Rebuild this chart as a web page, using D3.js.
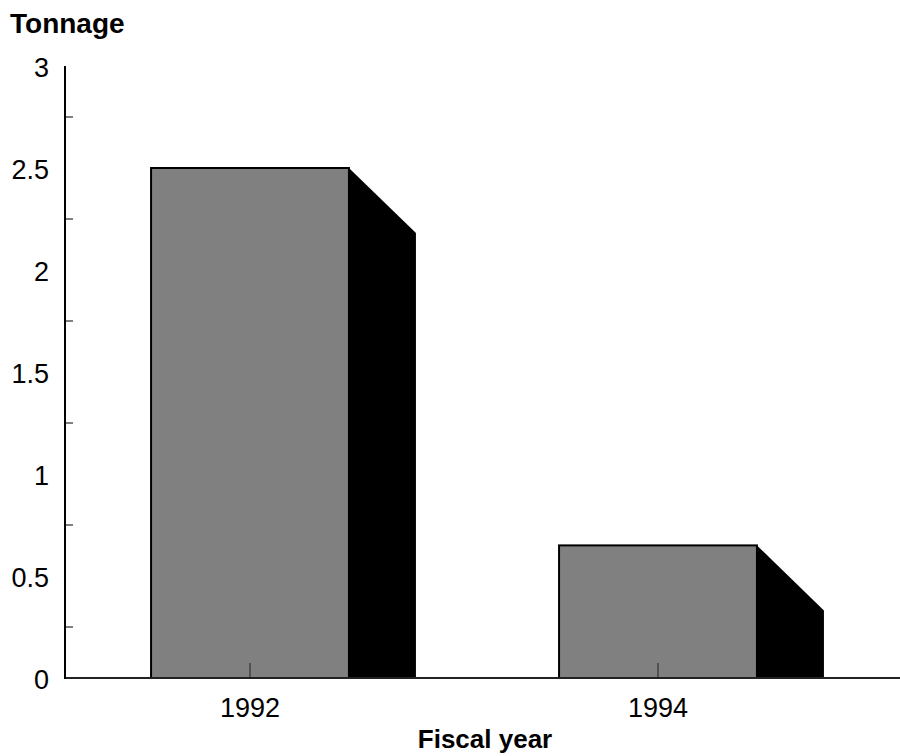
<!DOCTYPE html>
<html>
<head>
<meta charset="utf-8">
<script src="https://cdn.jsdelivr.net/npm/d3@7"></script>
<style>
  html, body { margin: 0; padding: 0; background: #fff; }
  svg { display: block; }
  text { font-family: "Liberation Sans", Arial, sans-serif; fill: #000; }
</style>
</head>
<body>
<svg id="chart" width="900" height="756"></svg>
<script>
// Tonnage by fiscal year
const years = ["1992", "1994"];
const tonnage = [2.5, 0.65];
const yTicks = [0, 0.5, 1, 1.5, 2, 2.5, 3];
const yMinorTicks = [0.25, 0.75, 1.25, 1.75, 2.25, 2.75];

const svg = d3.select("#chart");

const axisX = 65;      // y axis position
const x = d3.scaleBand().domain(years).range([46, 862]).padding(0);
const y = d3.scaleLinear().domain([0, 3]).range([678, 66]);

const barW = x.bandwidth() * 0.485;
const depthX = 67, depthY = 65;

// bars: front face plus dark side face
const g = svg.append("g");
years.forEach((yr, i) => {
  const cx = x(yr) + x.bandwidth() / 2;
  const left = cx - barW / 2, right = cx + barW / 2;
  const top = y(tonnage[i]), base = y(0);
  g.append("path")
    .attr("d", `M${right},${top}L${right + depthX},${top + depthY}L${right + depthX},${base}L${right},${base}Z`)
    .attr("fill", "#000");
  g.append("rect")
    .attr("x", left).attr("y", top)
    .attr("width", barW).attr("height", base - top)
    .attr("fill", "#808080")
    .attr("stroke", "#000").attr("stroke-width", 2);
});

// x axis line and inward ticks
svg.append("line")
  .attr("x1", axisX).attr("x2", 900)
  .attr("y1", y(0)).attr("y2", y(0))
  .attr("stroke", "#222").attr("stroke-width", 2);
years.forEach(yr => {
  const cx = x(yr) + x.bandwidth() / 2;
  svg.append("line")
    .attr("x1", cx).attr("x2", cx)
    .attr("y1", y(0)).attr("y2", y(0) - 15)
    .attr("stroke", "#222").attr("stroke-width", 1);
  svg.append("text")
    .attr("x", cx).attr("y", 717)
    .attr("text-anchor", "middle")
    .attr("font-size", 27)
    .text(yr);
});

// y axis line, minor ticks and labels
svg.append("line")
  .attr("x1", axisX).attr("x2", axisX)
  .attr("y1", y(3)).attr("y2", y(0) + 1)
  .attr("stroke", "#000").attr("stroke-width", 2);
yMinorTicks.forEach(v => {
  svg.append("line")
    .attr("x1", axisX).attr("x2", axisX + 8)
    .attr("y1", y(v)).attr("y2", y(v))
    .attr("stroke", "#000").attr("stroke-width", 1);
});
yTicks.forEach(v => {
  svg.append("text")
    .attr("x", 49).attr("y", y(v) + 11)
    .attr("text-anchor", "end")
    .attr("font-size", 27)
    .text(v);
});

// axis titles
svg.append("text")
  .attr("x", 10).attr("y", 33)
  .attr("font-size", 28).attr("font-weight", "bold")
  .text("Tonnage");
svg.append("text")
  .attr("x", 485).attr("y", 748)
  .attr("text-anchor", "middle")
  .attr("font-size", 26).attr("font-weight", "bold")
  .text("Fiscal year");
</script>
</body>
</html>
